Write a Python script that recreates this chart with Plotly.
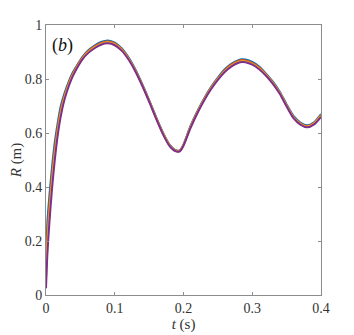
import plotly.graph_objects as go

t = [0, 0.002, 0.005, 0.009, 0.013, 0.0175, 0.021, 0.025, 0.03, 0.038, 0.045, 0.053, 0.06, 0.07,
     0.08, 0.09, 0.10, 0.11, 0.12, 0.13, 0.14, 0.15, 0.16, 0.17, 0.18, 0.19, 0.195, 0.20, 0.21,
     0.22, 0.23, 0.24, 0.25, 0.26, 0.27, 0.28, 0.285, 0.29, 0.30, 0.31, 0.32, 0.33, 0.34, 0.35,
     0.36, 0.37, 0.38, 0.39, 0.40]

R_blue = [0.09, 0.27, 0.37, 0.48, 0.57, 0.645, 0.695, 0.732, 0.77, 0.82, 0.85, 0.882, 0.903, 0.923,
          0.937, 0.943, 0.935, 0.914, 0.880, 0.835, 0.781, 0.722, 0.660, 0.602, 0.556, 0.535, 0.537,
          0.558, 0.625, 0.680, 0.728, 0.770, 0.805, 0.836, 0.857, 0.870, 0.873, 0.872, 0.863, 0.846,
          0.820, 0.790, 0.753, 0.706, 0.663, 0.639, 0.629, 0.640, 0.670]

R_red = [0.068, 0.23, 0.337, 0.453, 0.548, 0.63, 0.682, 0.723, 0.763, 0.815, 0.847, 0.879, 0.9, 0.92,
         0.934, 0.939, 0.932, 0.911, 0.877, 0.833, 0.779, 0.720, 0.658, 0.600, 0.554, 0.534, 0.536,
         0.556, 0.622, 0.677, 0.725, 0.767, 0.802, 0.833, 0.854, 0.867, 0.870, 0.869, 0.860, 0.843,
         0.817, 0.787, 0.750, 0.703, 0.660, 0.636, 0.626, 0.637, 0.667]

R_yellow = [0.047, 0.19, 0.303, 0.427, 0.527, 0.615, 0.668, 0.714, 0.757, 0.81, 0.843, 0.876, 0.896,
            0.916, 0.93, 0.936, 0.928, 0.908, 0.875, 0.830, 0.777, 0.718, 0.656, 0.598, 0.553, 0.532,
            0.534, 0.555, 0.620, 0.675, 0.723, 0.765, 0.800, 0.829, 0.850, 0.863, 0.866, 0.865, 0.856,
            0.839, 0.815, 0.785, 0.748, 0.701, 0.658, 0.634, 0.624, 0.635, 0.663]

R_purple = [0.025, 0.15, 0.27, 0.4, 0.505, 0.6, 0.655, 0.705, 0.75, 0.805, 0.84, 0.873, 0.893, 0.913,
            0.927, 0.932, 0.925, 0.905, 0.872, 0.828, 0.775, 0.716, 0.654, 0.596, 0.551, 0.531, 0.533,
            0.553, 0.617, 0.672, 0.720, 0.762, 0.797, 0.826, 0.847, 0.860, 0.863, 0.862, 0.853, 0.836,
            0.812, 0.782, 0.745, 0.698, 0.655, 0.631, 0.621, 0.632, 0.660]

series = [("blue", R_blue, "#0072BD"), ("red", R_red, "#D95319"),
          ("yellow", R_yellow, "#EDB120"), ("purple", R_purple, "#7E2F8E")]

x_ticks = [0, 0.1, 0.2, 0.3, 0.4]
x_labels = ["0", "0.1", "0.2", "0.3", "0.4"]
y_ticks = [0, 0.2, 0.4, 0.6, 0.8, 1]
y_labels = ["0", "0.2", "0.4", "0.6", "0.8", "1"]

fig = go.Figure()
for name, r, c in series:
    fig.add_trace(go.Scatter(x=t, y=r, mode="lines", name=name,
                             line=dict(color=c, width=2, shape="spline", smoothing=0.7)))

font_family = "Liberation Serif, Times New Roman, serif"
axis_common = dict(showline=True, linecolor="#8c8c8c", linewidth=1, mirror="ticks",
                   ticks="inside", ticklen=3, tickcolor="#8c8c8c", showgrid=False,
                   zeroline=False, automargin=False,
                   tickfont=dict(family=font_family, size=14, color="#333333"))

fig.update_layout(
    width=354, height=335,
    margin=dict(l=38, r=41, t=17, b=48),
    paper_bgcolor="white", plot_bgcolor="white",
    showlegend=False,
    font=dict(family=font_family),
    xaxis=dict(range=[0, 0.4], tickvals=x_ticks, ticktext=x_labels,
               title=dict(text="<i>t</i> (s)", font=dict(family=font_family, size=15, color="#333333"),
                          standoff=0),
               **axis_common),
    yaxis=dict(range=[0, 1], tickvals=y_ticks, ticktext=y_labels,
               title=dict(text="<i>R</i> (m)", font=dict(family=font_family, size=15, color="#333333"),
                          standoff=5),
               **axis_common),
    annotations=[dict(text="(<i>b</i>)", x=0.013, y=0.97, xref="paper", yref="paper",
                      xanchor="left", yanchor="top", showarrow=False,
                      font=dict(family=font_family, size=18, color="#111111"))],
)

fig.write_html("out.html")
